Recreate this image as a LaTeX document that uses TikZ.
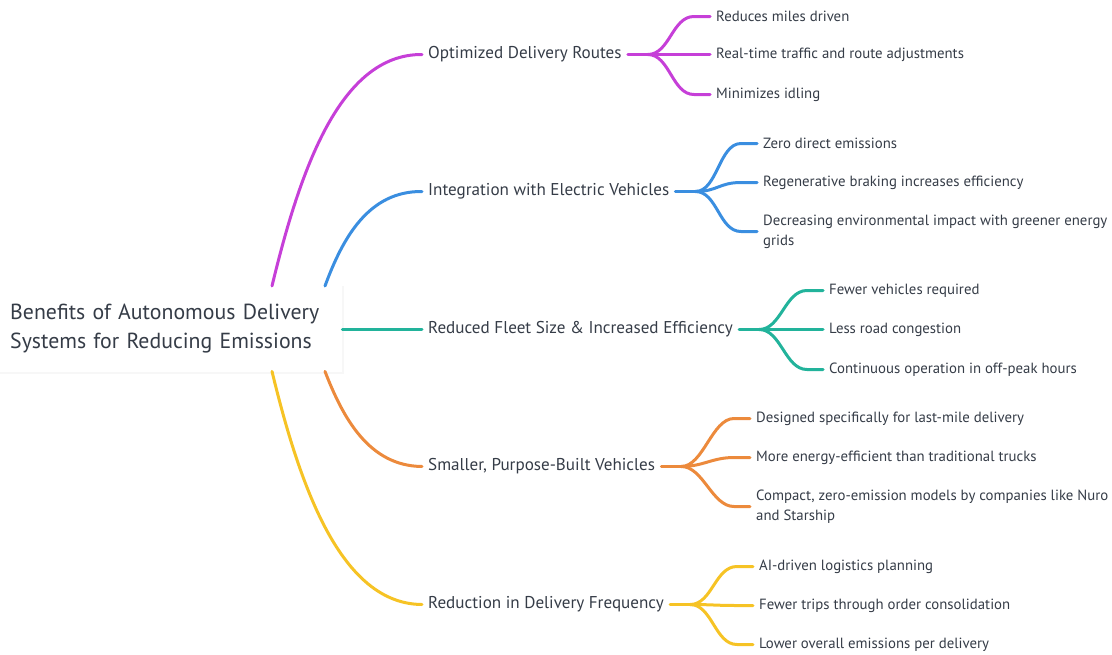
\documentclass[tikz,border=0pt]{standalone}
\usepackage{fontspec}
\setmainfont{PT Sans}
\usetikzlibrary{calc}
\definecolor{txt}{HTML}{353C47}
\definecolor{cmag}{HTML}{C63FD8}
\definecolor{cblu}{HTML}{3A8EE0}
\definecolor{ctea}{HTML}{22B39B}
\definecolor{cora}{HTML}{EC8A3C}
\definecolor{cyel}{HTML}{F6C325}
\tikzset{
  rootbox/.style={anchor=north west, fill=white, minimum width=342pt, minimum height=87pt,
     text width=322pt, inner xsep=10pt, inner ysep=0pt, align=left, text=txt,
     font=\fontsize{21.8}{29}\selectfont},
  mainnode/.style={anchor=west, yshift=-1.5pt, inner xsep=6pt, inner ysep=2pt, text=txt, font=\fontsize{17.1}{19}\selectfont},
  leaf/.style={anchor=west, yshift=-1.5pt, inner xsep=6pt, inner ysep=2pt, text=txt, align=left, font=\fontsize{14.8}{20}\selectfont},
  conn/.style={line width=3pt, line cap=round},
}
\begin{document}
\begin{tikzpicture}[x=1pt,y=-1pt]
\useasboundingbox (0,0) rectangle (1112,654);
% faint shadow of root box
\fill[black!3] (0,286) rectangle (344,374);
\node[rootbox] (root) at (0,285) {Benefits of Autonomous Delivery\\Systems for Reducing Emissions};

% main nodes
\node[mainnode] (m1) at (422,53) {Optimized Delivery Routes};
\node[mainnode] (m2) at (422,190) {Integration with Electric Vehicles};
\node[mainnode] (m3) at (422,328) {Reduced Fleet Size \& Increased Efficiency};
\node[mainnode] (m4) at (422,465) {Smaller, Purpose-Built Vehicles};
\node[mainnode] (m5) at (422,603) {Reduction in Delivery Frequency};

% root connectors
\draw[conn,cmag] ($(root.north west)+(272,1)$) .. controls (300,170) and (340,54) .. (m1.west);
\draw[conn,cblu] ($(root.north west)+(325,1)$) .. controls (343,237) and (369,191) .. (m2.west);
\draw[conn,ctea] (root.east |- m3.west) -- (m3.west);
\draw[conn,cora] ($(root.south west)+(325,-1)$) .. controls (343,418) and (369,466) .. (m4.west);
\draw[conn,cyel] ($(root.south west)+(272,-1)$) .. controls (300,487) and (341,604) .. (m5.west);

% leaves
\node[leaf] (a1) at (710,15) {Reduces miles driven};
\node[leaf] (a2) at (710,53) {Real-time traffic and route adjustments};
\node[leaf] (a3) at (710,93) {Minimizes idling};

\node[leaf] (b1) at (757,142) {Zero direct emissions};
\node[leaf] (b2) at (757,181) {Regenerative braking increases efficiency};
\node[leaf] (b3) at (757,230) {Decreasing environmental impact with greener energy\\grids};

\node[leaf] (c1) at (823,289) {Fewer vehicles required};
\node[leaf] (c2) at (823,328) {Less road congestion};
\node[leaf] (c3) at (823,368) {Continuous operation in off-peak hours};

\node[leaf] (d1) at (750,417) {Designed specifically for last-mile delivery};
\node[leaf] (d2) at (750,456) {More energy-efficient than traditional trucks};
\node[leaf] (d3) at (750,505) {Compact, zero-emission models by companies like Nuro\\and Starship};

\node[leaf] (e1) at (753,565) {AI-driven logistics planning};
\node[leaf] (e2) at (753,604) {Fewer trips through order consolidation};
\node[leaf] (e3) at (753,643) {Lower overall emissions per delivery};

% split points
\coordinate (sa) at ($(m1.east)+(20,0)$);
\coordinate (sb) at ($(m2.east)+(20,0)$);
\coordinate (sc) at ($(m3.east)+(20,0)$);
\coordinate (sd) at ($(m4.east)+(20,0)$);
\coordinate (se) at ($(m5.east)+(20,0)$);

\foreach \p/\s/\c/\col in {m1/sa/a/cmag, m2/sb/b/cblu, m3/sc/c/ctea, m4/sd/d/cora, m5/se/e/cyel}{
  \draw[conn,\col] (\p.east) -- (\s);
  \foreach \i in {1,2,3}{
    \draw[conn,\col] (\s) .. controls +(22,0) and +(-22,0) .. ($(\c\i.west)+(-16,0)$) -- (\c\i.west);
  }
}
\end{tikzpicture}
\end{document}
